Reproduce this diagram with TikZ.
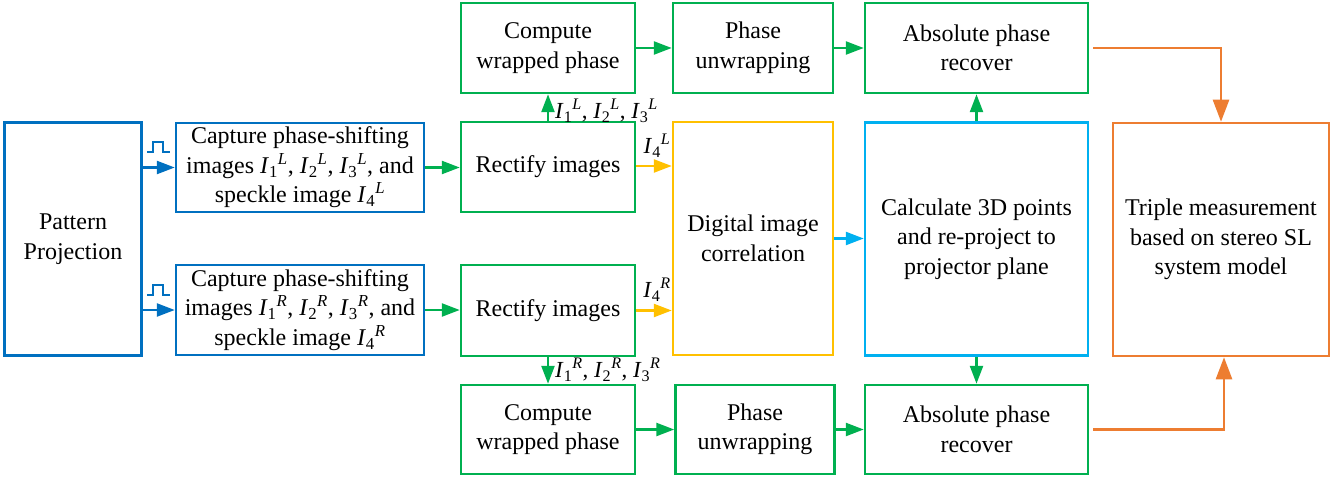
\documentclass[tikz,border=0pt]{standalone}
\usepackage{fontspec}
\setmainfont{Liberation Serif}
\usetikzlibrary{arrows.meta}
\definecolor{cblue}{RGB}{0,112,192}
\definecolor{cgreen}{RGB}{0,176,80}
\definecolor{cyel}{RGB}{255,192,0}
\definecolor{clblue}{RGB}{0,176,240}
\definecolor{corange}{RGB}{237,125,49}
\newcommand\Iz[2]{\textit{I}\textsubscript{#1}\textsuperscript{\textit{#2}}}
\tikzset{
  box/.style={draw, line width=2.5pt, rectangle, align=center, inner sep=2pt,
    font=\fontsize{24}{29.5}\selectfont},
  bbox/.style={box, draw=cblue},
  gbox/.style={box, draw=cgreen},
  ybox/.style={box, draw=cyel},
  lbbox/.style={box, draw=clblue},
  obox/.style={box, draw=corange},
  conn/.style={line width=2.5pt, -{Triangle[length=18pt,width=13pt]}},
  barrow/.style={conn, draw=cblue, fill=cblue},
  garrow/.style={conn, draw=cgreen, fill=cgreen},
  yarrow/.style={conn, draw=cyel, fill=cyel},
  lbarrow/.style={conn, draw=clblue, fill=clblue},
  oarrow/.style={line width=2.5pt, draw=corange, -{Triangle[length=22pt,width=16pt]}},
  lbl/.style={inner sep=0pt, font=\fontsize{23}{27}\selectfont},
  pulse/.style={draw=cblue, line width=1.6pt}
}
\begin{document}
\begin{tikzpicture}[x=1pt,y=-1pt]
\useasboundingbox (0,0) rectangle (1341,481);
% nodes
\node[bbox, minimum width=137pt, minimum height=233pt] (pp) at (73,239) {Pattern\\Projection};
\node[bbox, minimum width=248pt, minimum height=89pt] (capL) at (300,167.5) {Capture phase-shifting\\images \Iz{1}{L}, \Iz{2}{L}, \Iz{3}{L}, and\\speckle image \Iz{4}{L}};
\node[bbox, minimum width=248pt, minimum height=90pt] (capR) at (300,310) {Capture phase-shifting\\images \Iz{1}{R}, \Iz{2}{R}, \Iz{3}{R}, and\\speckle image \Iz{4}{R}};
\node[gbox, minimum width=174pt, minimum height=90pt] (recL) at (548,167) {Rectify images};
\node[gbox, minimum width=174pt, minimum height=91pt] (recR) at (548,310.5) {Rectify images};
\node[gbox, minimum width=174pt, minimum height=90pt] (cwL) at (548,48) {Compute\\wrapped phase};
\node[gbox, minimum width=174pt, minimum height=89pt] (cwR) at (548,429.5) {Compute\\wrapped phase};
\node[gbox, minimum width=160pt, minimum height=90pt] (puL) at (753,48) {Phase\\unwrapping};
\node[gbox, minimum width=159pt, minimum height=89pt] (puR) at (755,429.5) {Phase\\unwrapping};
\node[ybox, minimum width=160pt, minimum height=233pt] (dic) at (753,238.5) {Digital image\\correlation};
\node[gbox, minimum width=223pt, minimum height=90pt] (abL) at (976.5,48) {Absolute phase\\recover};
\node[gbox, minimum width=223pt, minimum height=89pt] (abR) at (976.5,429.5) {Absolute phase\\recover};
\node[lbbox, minimum width=223pt, minimum height=233pt] (calc) at (976.5,239) {Calculate 3D points\\and re-project to\\projector plane};
\node[obox, minimum width=216pt, minimum height=233pt] (tri) at (1221,239.5) {Triple measurement\\based on stereo SL\\system model};
% labels
\node[lbl, anchor=west] (lL) at (555,111) {\Iz{1}{L}, \Iz{2}{L}, \Iz{3}{L}};
\node[lbl, anchor=west] (lR) at (555,370) {\Iz{1}{R}, \Iz{2}{R}, \Iz{3}{R}};
\node[lbl] (l4L) at (657,146) {\Iz{4}{L}};
\node[lbl] (l4R) at (657,290) {\Iz{4}{R}};
% pulses
\coordinate (pA) at (147,152);
\coordinate (pB) at (147,295);
\draw[pulse] (pA) -- ++(6,0) -- ++(0,-10) -- ++(10,0) -- ++(0,10) -- ++(7,0);
\draw[pulse] (pB) -- ++(6,0) -- ++(0,-10) -- ++(10,0) -- ++(0,10) -- ++(7,0);
% connectors
\draw[barrow] (pp.east |- capL.west) -- (capL.west);
\draw[barrow] (pp.east |- capR.west) -- (capR.west);
\draw[garrow] (capL.east) -- (capL.east -| recL.west);
\draw[garrow] (capR.east) -- (capR.east -| recR.west);
\draw[garrow] (recL.north) -- (cwL.south);
\draw[garrow] (recR.south) -- (cwR.north);
\draw[yarrow] ([yshift=1pt]recL.east) -- ([yshift=1pt]recL.east -| dic.west);
\draw[yarrow] (recR.east) -- (recR.east -| dic.west);
\draw[garrow] (cwL.east) -- (puL.west);
\draw[garrow] (puL.east) -- (abL.west);
\draw[garrow] (cwR.east) -- (cwR.east -| puR.west);
\draw[garrow] (puR.east) -- (puR.east -| abR.west);
\draw[lbarrow] (dic.east) -- (dic.east -| calc.west);
\draw[garrow] (calc.north) -- (abL.south);
\draw[garrow] (calc.south) -- (abR.north);
\draw[oarrow] ([xshift=4pt]abL.east) -| (tri.north);
\draw[oarrow] ([xshift=4pt]abR.east) -| ([xshift=3pt]tri.south);
\end{tikzpicture}
\end{document}
